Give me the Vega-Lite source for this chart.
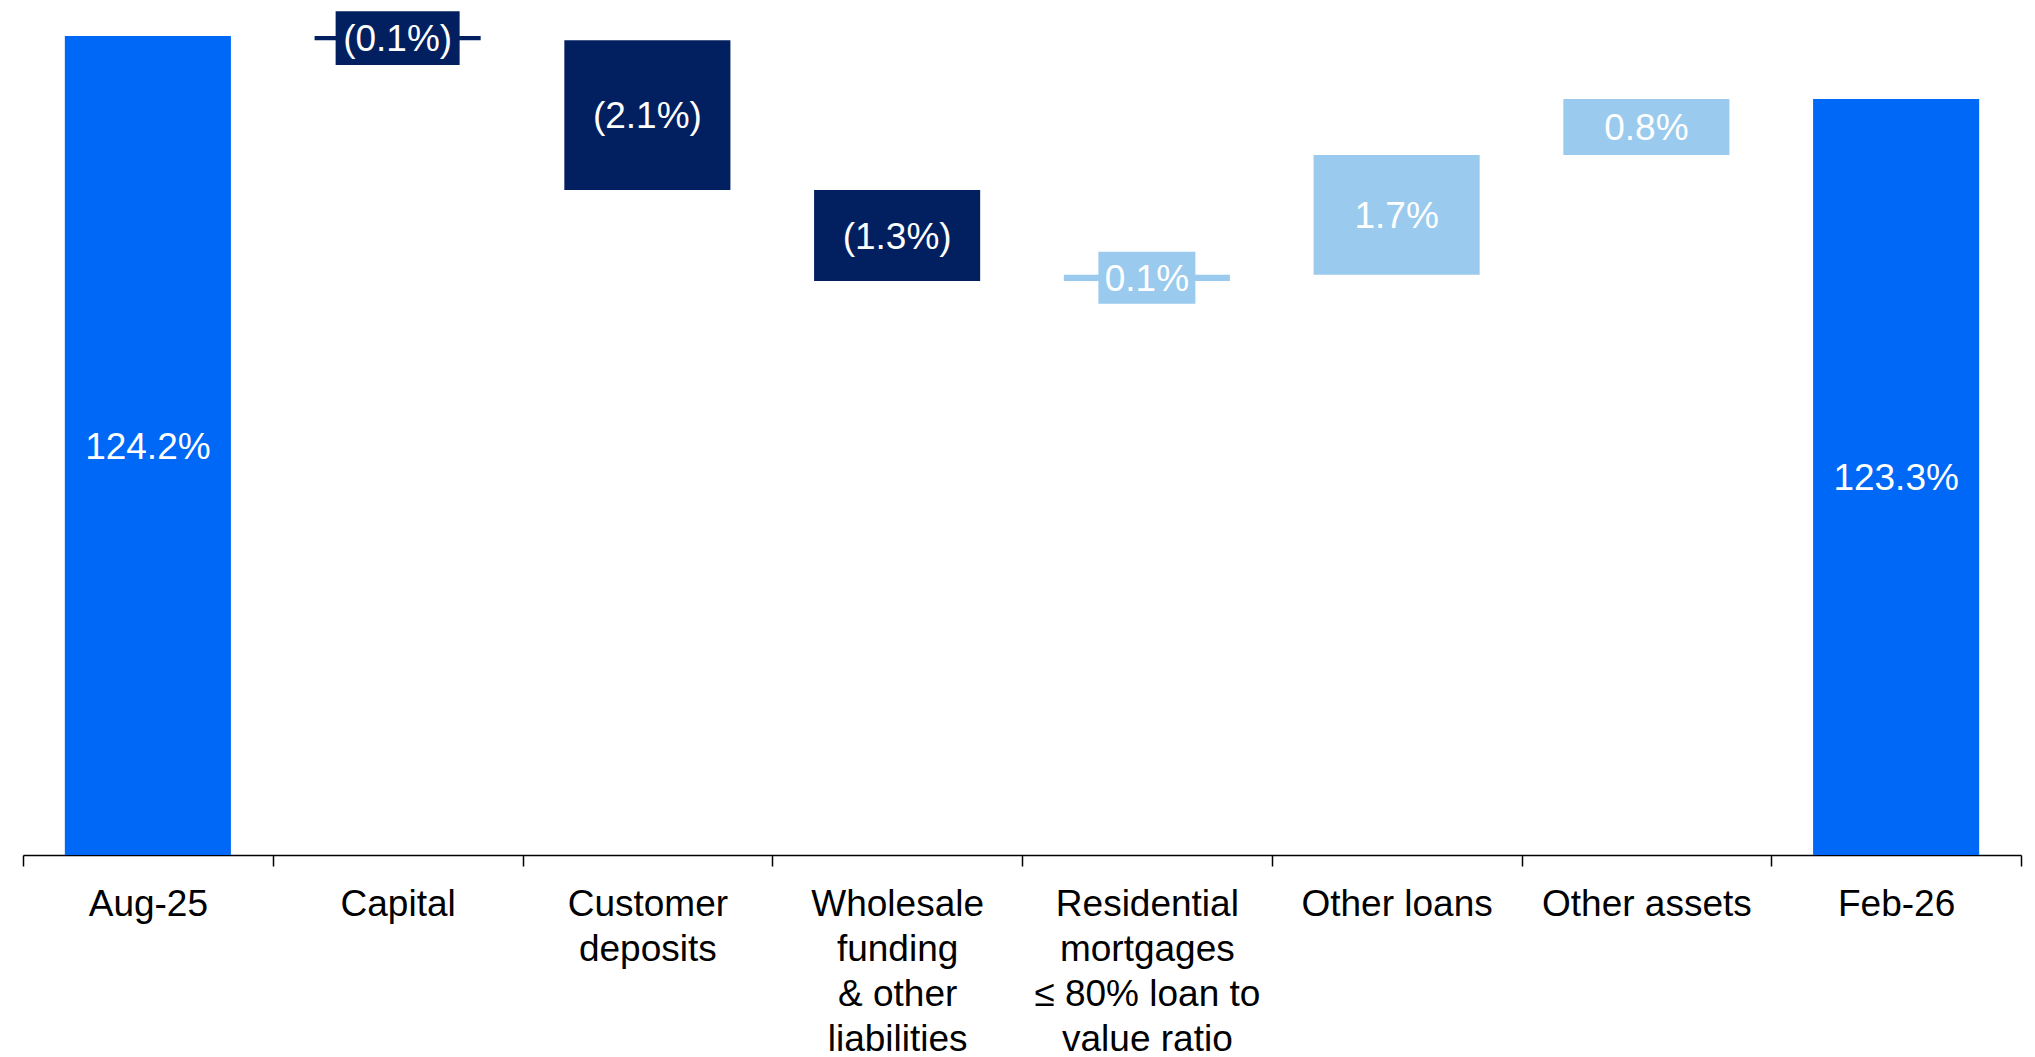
{
  "$schema": "https://vega.github.io/schema/vega-lite/v6.json",
  "width": 1998,
  "height": 840,
  "autosize": {"type": "none"},
  "padding": {"left": 23, "top": 15, "right": 14, "bottom": 202},
  "background": "white",
  "config": {"view": {"stroke": null}, "font": "Liberation Sans"},
  "data": {
    "values": [
      {"cat": "Aug-25", "kind": "total", "start": 112.5, "end": 124.2, "label": "124.2%"},
      {"cat": "Capital", "kind": "decrease", "start": 124.2, "end": 124.14, "label": "(0.1%)"},
      {"cat": "Customer deposits", "kind": "decrease", "start": 124.14, "end": 122.0, "label": "(2.1%)"},
      {"cat": "Wholesale funding & other liabilities", "kind": "decrease", "start": 122.0, "end": 120.7, "label": "(1.3%)"},
      {"cat": "Residential mortgages ≤ 80% loan to value ratio", "kind": "increase", "start": 120.7, "end": 120.79, "label": "0.1%"},
      {"cat": "Other loans", "kind": "increase", "start": 120.79, "end": 122.5, "label": "1.7%"},
      {"cat": "Other assets", "kind": "increase", "start": 122.5, "end": 123.3, "label": "0.8%"},
      {"cat": "Feb-26", "kind": "total", "start": 112.5, "end": 123.3, "label": "123.3%"}
    ]
  },
  "encoding": {
    "x": {
      "field": "cat",
      "type": "nominal",
      "sort": null,
      "scale": {
        "domain": ["Aug-25", "Capital", "Customer deposits", "Wholesale funding & other liabilities", "Residential mortgages ≤ 80% loan to value ratio", "Other loans", "Other assets", "Feb-26"],
        "paddingInner": 0,
        "paddingOuter": 0
      },
      "axis": {
        "title": null,
        "labelAngle": 0,
        "labelFont": "Liberation Sans",
        "labelFontSize": 37,
        "labelColor": "#000000",
        "labelLineHeight": 45,
        "labelPadding": 20,
        "labelBaseline": "top",
        "labelLimit": 400,
        "labelOverlap": false,
        "tickBand": "extent",
        "tickSize": 11,
        "tickColor": "#000000",
        "tickWidth": 1.5,
        "domainColor": "#000000",
        "domainWidth": 1.5,
        "grid": false,
        "labelExpr": "datum.value == 'Customer deposits' ? ['Customer', 'deposits'] : datum.value == 'Wholesale funding & other liabilities' ? ['Wholesale', 'funding', '& other', 'liabilities'] : datum.value == 'Residential mortgages ≤ 80% loan to value ratio' ? ['Residential', 'mortgages', '≤ 80% loan to', 'value ratio'] : datum.value"
      }
    }
  },
  "layer": [
    {
      "mark": {"type": "bar", "width": {"band": 0.665}, "stroke": null},
      "encoding": {
        "y": {"field": "start", "type": "quantitative", "scale": {"domain": [112.5, 124.5], "zero": false, "nice": false}, "axis": null},
        "y2": {"field": "end"},
        "color": {
          "field": "kind",
          "type": "nominal",
          "scale": {"domain": ["total", "decrease", "increase"], "range": ["#0068F6", "#022060", "#9ACBEE"]},
          "legend": null
        }
      }
    },
    {
      "transform": [
        {"filter": "datum.cat == 'Capital'"},
        {"fold": ["start", "end"], "as": ["k", "v"]}
      ],
      "mark": {"type": "point", "filled": true, "opacity": 1, "strokeWidth": 0, "size": 15376, "shape": "M-1,-0.435H1V0.435H-1Z"},
      "encoding": {
        "y": {"aggregate": "mean", "field": "v", "type": "quantitative", "scale": {"domain": [112.5, 124.5], "zero": false, "nice": false}, "axis": null},
        "color": {"field": "kind", "type": "nominal", "legend": null}
      }
    },
    {
      "transform": [
        {"filter": "datum.cat == 'Residential mortgages ≤ 80% loan to value ratio'"},
        {"fold": ["start", "end"], "as": ["k", "v"]}
      ],
      "mark": {"type": "point", "filled": true, "opacity": 1, "strokeWidth": 0, "size": 9409, "shape": "M-1,-0.536H1V0.536H-1Z"},
      "encoding": {
        "y": {"aggregate": "mean", "field": "v", "type": "quantitative", "scale": {"domain": [112.5, 124.5], "zero": false, "nice": false}, "axis": null},
        "color": {"field": "kind", "type": "nominal", "legend": null}
      }
    },
    {
      "transform": [
        {"fold": ["start", "end"], "as": ["k", "v"]}
      ],
      "mark": {"type": "text", "font": "Liberation Sans", "fontSize": 37, "color": "#FFFFFF", "align": "center", "baseline": "middle", "dy": 2},
      "encoding": {
        "y": {"aggregate": "mean", "field": "v", "type": "quantitative", "scale": {"domain": [112.5, 124.5], "zero": false, "nice": false}, "axis": null},
        "text": {"field": "label", "type": "nominal"}
      }
    }
  ]
}
